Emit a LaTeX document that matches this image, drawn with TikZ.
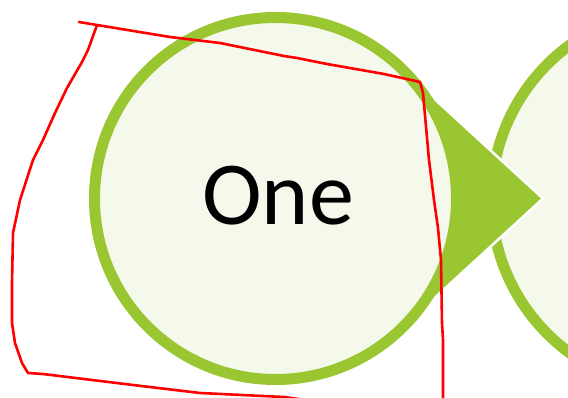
\documentclass[tikz,border=0pt]{standalone}
\usepackage{fontspec}
\setmainfont{Carlito}
\definecolor{leaf}{RGB}{154,198,50}
\definecolor{pale}{RGB}{245,249,235}
\begin{document}
\begin{tikzpicture}[x=1pt,y=-1pt,
  ring/.style={circle, draw=leaf, fill=pale, line width=11pt, outer sep=0pt, inner sep=0pt},
  pointer/.style={fill=leaf, draw=white, line width=2.5pt, line join=miter},
  scribble/.style={draw=red, line width=2.6pt, line join=round, line cap=round}]
\useasboundingbox (0,0) rectangle (568,398);
\begin{scope}
\clip (0,0) rectangle (568,398);
\node[ring, minimum size=381pt] (c2) at (682,199) {};
\coordinate (tip) at (543,198.5);
\node[ring, minimum size=362pt, draw=none, fill=none] (c1ghost) at (275.5,198.5) {};
\path[pointer] (c1ghost.45) -- (tip) -- (c1ghost.-45) -- cycle;
\node[ring, minimum size=362pt] (c1) at (275.5,198.5) {};
\node[font=\fontsize{90}{100}\selectfont, inner sep=0pt] (lbl) at (278,196) {One};
\draw[scribble] (79,22) -- (97,25) -- (170,37) -- (220,43) -- (284,56) -- (297,58) -- (327,64) -- (384,74) -- (420,82)
  -- (423,93) -- (429,160) -- (434,200) -- (438,228) -- (441,260) -- (442,323) -- (443,340) -- (443,410)
  (320,402) -- (284,397) -- (200,393) -- (133,385) -- (43,374) -- (28,373) -- (22,363) -- (15,343) -- (12,323)
  -- (12,283) -- (13,233) -- (20,200) -- (33,160) -- (43,140) -- (55,113) -- (67,88) -- (82,62) -- (88,50) -- (97,25);
\end{scope}
\end{tikzpicture}
\end{document}
